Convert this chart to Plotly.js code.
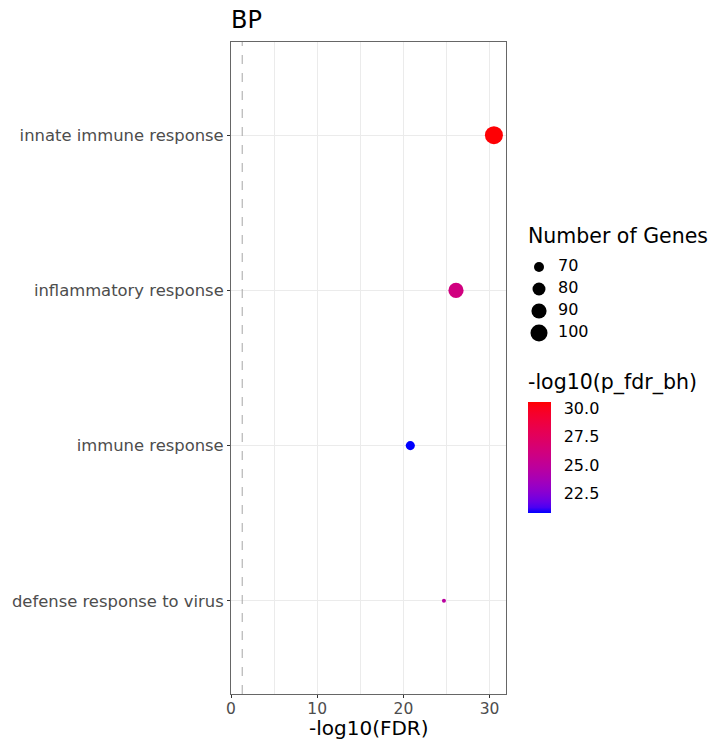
<!DOCTYPE html>
<html>
<head>
<meta charset="utf-8">
<script src="https://cdn.plot.ly/plotly-3.0.1.min.js"></script>
<style>html,body{margin:0;padding:0;background:#fff;}#chart{width:711px;height:739px;}</style>
</head>
<body>
<div id="chart"></div>
<script>
// ---- data ----
var terms = ["innate immune response", "inflammatory response", "immune response", "defense response to virus"];
var negLogFDR = [30.5, 26.1, 20.8, 24.7];
var negLogPfdrBh = [30.5, 26.1, 20.8, 24.7];
var geneCounts = [106, 90, 68, 62];
var sizeBreaks = [70, 80, 90, 100];
var colorTicks = [22.5, 25.0, 27.5, 30.0];
var xTicks = [0, 10, 20, 30];
var fdrThreshold = [1.3];

// ---- helpers (scales) ----
function srgbToLin(c){c/=255;return c<=0.04045?c/12.92:Math.pow((c+0.055)/1.055,2.4);}
function linToSrgb(c){var v=c<=0.0031308?12.92*c:1.055*Math.pow(c,1/2.4)-0.055;return Math.max(0,Math.min(255,Math.round(v*255)));}
var Xn=0.95047,Yn=1,Zn=1.08883;
function f(t){return t>0.008856?Math.cbrt(t):7.787*t+16/116;}
function finv(t){return t>0.206893?t*t*t:(t-16/116)/7.787;}
function rgb2lab(r,g,b){r=srgbToLin(r);g=srgbToLin(g);b=srgbToLin(b);
 var X=r*0.4124+g*0.3576+b*0.1805,Y=r*0.2126+g*0.7152+b*0.0722,Z=r*0.0193+g*0.1192+b*0.9505;
 var fx=f(X/Xn),fy=f(Y/Yn),fz=f(Z/Zn);return [116*fy-16,500*(fx-fy),200*(fy-fz)];}
function lab2rgb(L,a,bb){var fy=(L+16)/116,fx=fy+a/500,fz=fy-bb/200;
 var X=Xn*finv(fx),Y=Yn*finv(fy),Z=Zn*finv(fz);
 var r=3.2406*X-1.5372*Y-0.4986*Z,g=-0.9689*X+1.8758*Y+0.0415*Z,b=0.0557*X-0.2040*Y+1.0570*Z;
 return 'rgb('+linToSrgb(r)+','+linToSrgb(g)+','+linToSrgb(b)+')';}
var labLow=rgb2lab(0,0,255), labHigh=rgb2lab(255,0,0);
var colorscale=[];
for(var i=0;i<=20;i++){var t=i/20;colorscale.push([t,lab2rgb(labLow[0]+(labHigh[0]-labLow[0])*t,labLow[1]+(labHigh[1]-labLow[1])*t,labLow[2]+(labHigh[2]-labLow[2])*t)]);}

var gMin=Math.min.apply(null,geneCounts), gMax=Math.max.apply(null,geneCounts);
function sizeOf(v){var t=(v-gMin)/(gMax-gMin);t=Math.max(0,t);return 4+14*Math.sqrt(t);}

var W=711,H=739,L=231,T=42,B=45,R=0;
var plotW=W-L-R, plotH=H-T-B;
var panelRight=506;
function px2x(p){return (p-L)/plotW;}
function py2y(p){return (H-B-p)/plotH;}

var font="DejaVu Sans";
var cmin=20.8, cmax=30.58;

var main={
 type:'scatter', mode:'markers', x:negLogFDR, y:terms,
 xaxis:'x', yaxis:'y', hoverinfo:'none', showlegend:false,
 marker:{size:geneCounts.map(sizeOf), color:negLogPfdrBh, colorscale:colorscale, cmin:cmin, cmax:cmax,
  line:{width:0}, opacity:1,
  colorbar:{x:px2x(527.5), xanchor:'left', y:py2y(457.2), yanchor:'middle', thickness:23, thicknessmode:'pixels',
   len:111, lenmode:'pixels', outlinewidth:0, ticks:'outside', ticklen:10, tickcolor:'rgba(255,255,255,0)', tickwidth:1,
   tickvals:colorTicks, ticktext:colorTicks.map(function(v){return v.toFixed(1);}),
   tickfont:{family:font,size:16,color:'#000'}, xpad:0, ypad:0, title:{text:'', side:'top'}}}
};

var legDots={
 type:'scatter', mode:'markers', x:sizeBreaks.map(function(){return 11;}), y:sizeBreaks,
 xaxis:'x2', yaxis:'y2', hoverinfo:'none', showlegend:false,
 marker:{size:sizeBreaks.map(sizeOf), color:'#000000', opacity:1, line:{width:0}}
};
var legText={
 type:'scatter', mode:'text', x:sizeBreaks.map(function(){return 30;}), y:sizeBreaks,
 text:sizeBreaks.map(String), textposition:'middle right',
 textfont:{family:font,size:16,color:'#000'},
 xaxis:'x2', yaxis:'y2', hoverinfo:'none', showlegend:false
};

var layout={
 width:W, height:H, margin:{l:L,r:R,t:T,b:B}, paper_bgcolor:'#fff', plot_bgcolor:'#fff',
 font:{family:font},
 title:{text:'BP', font:{family:font,size:24,color:'#000'}, xref:'paper', x:0, xanchor:'left', yref:'container', y:1-20/H, yanchor:'middle'},
 xaxis:{domain:[0,(panelRight-L)/plotW], range:[0,31.9], tickvals:xTicks, ticks:'outside', ticklen:3, tickcolor:'#333',
  ticklabelstandoff:-3,
  showgrid:true, gridcolor:'#EBEBEB', gridwidth:1,
  minor:{dtick:5, tick0:0, showgrid:true, gridcolor:'#EBEBEB', gridwidth:1, ticks:''},
  zeroline:false, showline:true, linecolor:'#666', linewidth:1, mirror:true,
  tickfont:{family:font,size:15.5,color:'#4D4D4D'}, title:{text:''}},
 yaxis:{type:'category', categoryorder:'array', categoryarray:terms.slice().reverse(), range:[-0.6,3.6],
  ticks:'outside', ticklen:3, tickcolor:'#333', showgrid:true, gridcolor:'#EBEBEB', gridwidth:1,
  zeroline:false, showline:true, linecolor:'#666', linewidth:1, mirror:true,
  tickfont:{family:font,size:16.4,color:'#4D4D4D'}},
 xaxis2:{domain:[px2x(528),1], range:[0,183], visible:false, fixedrange:true},
 yaxis2:{domain:[py2y(344),py2y(256)], range:[105,65], visible:false, fixedrange:true},
 shapes:[{type:'line', xref:'x', yref:'paper', x0:fdrThreshold[0], x1:fdrThreshold[0], y0:0, y1:1,
  line:{color:'#A6A6A6', width:1, dash:'dash'}, layer:'above'}],
 annotations:[
  {text:'-log10(FDR)', xref:'paper', yref:'paper', x:px2x(368.5), y:py2y(728), xanchor:'center', yanchor:'middle', showarrow:false, font:{family:font,size:20,color:'#000'}},
  {text:'Number of Genes', xref:'paper', yref:'paper', x:px2x(526), y:py2y(236), xanchor:'left', yanchor:'middle', showarrow:false, font:{family:font,size:20.5,color:'#000'}},
  {text:'-log10(p_fdr_bh)', xref:'paper', yref:'paper', x:px2x(526), y:py2y(382), xanchor:'left', yanchor:'middle', showarrow:false, font:{family:font,size:20.5,color:'#000'}}
 ]
};

Plotly.newPlot('chart',[main,legDots,legText],layout,{staticPlot:true, displayModeBar:false});
</script>
</body>
</html>
